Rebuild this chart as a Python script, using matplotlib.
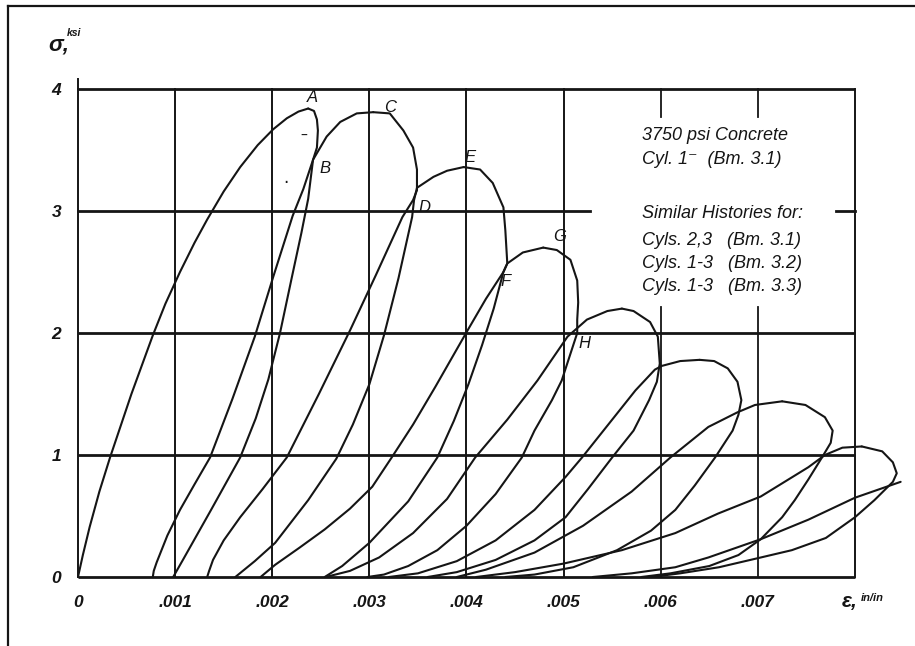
import matplotlib
matplotlib.use("Agg")
import matplotlib.pyplot as plt
from matplotlib.lines import Line2D

# ---- axis layout values ----
x_ticks = [0, 0.001, 0.002, 0.003, 0.004, 0.005, 0.006, 0.007]
x_tick_labels = ["0", ".001", ".002", ".003", ".004", ".005", ".006", ".007"]
y_ticks = [0, 1, 2, 3, 4]
y_tick_labels = ["0", "1", "2", "3", "4"]

# ---- stress (ksi) vs strain (in/in) branches of the cyclic loading history ----
rise_A_strain = [0, .00005, .00012, .00022, .00033, .00055, .00077, .00090, .00105,
                 .00120, .00133, .00150, .00167, .00185, .00201, .00215, .00227, .00237]
rise_A_stress = [0, .18, .41, .70, .98, 1.50, 1.98, 2.24, 2.50,
                 2.74, 2.93, 3.16, 3.36, 3.54, 3.67, 3.76, 3.815, 3.84]
fall_A_strain = [.00237, .00243, .00246, .00247, .00246, .00242, .00232, .00221, .00201,
                 .00182, .00159, .00136, .00120, .00105, .00092, .00081, .00078, .00077]
fall_A_stress = [3.84, 3.82, 3.75, 3.66, 3.52, 3.42, 3.18, 2.96, 2.46,
                 1.97, 1.46, .98, .76, .55, .34, .12, .05, 0]

rise_C_strain = [.00098, .00108, .00137, .00167, .00183, .00196, .00208, .00220, .00230,
                 .00237, .00242, .00256, .00270, .00287, .00304]
rise_C_stress = [0, .14, .55, .98, 1.30, 1.62, 2.00, 2.45, 2.82,
                 3.10, 3.42, 3.61, 3.73, 3.80, 3.81]
fall_C_strain = [.00304, .00321, .00335, .00345, .00349, .00349, .00345, .00334, .00307,
                 .00280, .00248, .00215, .00190, .00167, .00150, .00139, .00135, .00133]
fall_C_stress = [3.81, 3.80, 3.66, 3.52, 3.34, 3.17, 3.09, 2.95, 2.48,
                 2.02, 1.50, .98, .72, .49, .30, .14, .05, 0]

rise_E_strain = [.00162, .00182, .00203, .00237, .00266, .00283, .00300, .00315, .00330,
                 .00344, .00346, .00349, .00366, .00380, .00397]
rise_E_stress = [0, .13, .28, .63, .97, 1.25, 1.58, 1.98, 2.45,
                 2.95, 3.09, 3.19, 3.28, 3.33, 3.36]
fall_E_strain = [.00397, .00414, .00427, .00438, .00440, .00442, .00438, .00428, .00416,
                 .00402, .00387, .00370, .00340, .00300, .00272, .00258, .00254]
fall_E_stress = [3.36, 3.34, 3.23, 3.03, 2.84, 2.57, 2.50, 2.20, 1.90,
                 1.58, 1.28, .98, .62, .28, .09, .02, 0]

rise_G_strain = [.00188, .00203, .00228, .00254, .00280, .00303, .00323, .00345, .00368,
                 .00401, .00420, .00438, .00442, .00458, .00479]
rise_G_stress = [0, .10, .24, .39, .56, .74, .98, 1.25, 1.56,
                 2.02, 2.28, 2.50, 2.57, 2.66, 2.70]
fall_G_strain = [.00479, .00493, .00507, .00514, .00515, .00514, .00514, .00498, .00488,
                 .00470, .00457, .00430, .00400, .00370, .00340, .00315, .00298]
fall_G_stress = [2.70, 2.68, 2.60, 2.43, 2.25, 2.11, 2.00, 1.61, 1.45,
                 1.20, .98, .68, .42, .22, .09, .02, 0]

rise_5_strain = [.00255, .00280, .00310, .00345, .00380, .00409, .00442, .00473, .00504,
                 .00514, .00524, .00545, .00560]
rise_5_stress = [0, .05, .16, .36, .64, .98, 1.29, 1.61, 1.97,
                 2.04, 2.11, 2.18, 2.20]
fall_5_strain = [.00560, .00572, .00589, .00597, .00599, .00596, .00588, .00572, .00550,
                 .00525, .00502, .00470, .00430, .00390, .00360]
fall_5_stress = [2.20, 2.18, 2.09, 1.97, 1.75, 1.60, 1.45, 1.20, .98,
                 .72, .49, .30, .14, .04, 0]

rise_6_strain = [.00320, .00350, .00390, .00430, .00470, .00502, .00519, .00546, .00574,
                 .00594, .00601, .00620, .00640]
rise_6_stress = [0, .03, .13, .30, .55, .82, .98, 1.25, 1.53,
                 1.70, 1.73, 1.77, 1.78]
fall_6_strain = [.00640, .00655, .00669, .00679, .00683, .00680, .00674, .00656, .00635,
                 .00615, .00590, .00555, .00510, .00470, .00440]
fall_6_stress = [1.78, 1.77, 1.71, 1.60, 1.45, 1.33, 1.20, .98, .75,
                 .55, .38, .22, .08, .02, 0]

rise_7_strain = [.00390, .00420, .00470, .00520, .00570, .00610, .00649, .00679, .00697, .00725]
rise_7_stress = [0, .06, .20, .42, .70, .98, 1.23, 1.35, 1.41, 1.44]
fall_7_strain = [.00725, .00749, .00769, .00777, .00775, .00766, .00752, .00738, .00725,
                 .00703, .00680, .00650, .00610, .00580]
fall_7_stress = [1.44, 1.41, 1.31, 1.20, 1.10, .98, .80, .63, .49,
                 .31, .18, .09, .03, 0]

rise_8_strain = [.00410, .00450, .00500, .00560, .00615, .00659, .00703, .00752, .00769,
                 .00787, .00807]
rise_8_stress = [0, .04, .11, .22, .36, .52, .66, .90, 1.00, 1.06, 1.07]
fall_8_strain = [.00807, .00828, .00839, .00843, .00839, .00820, .00800, .00770, .00735,
                 .00703, .00660, .00620, .00590]
fall_8_stress = [1.07, 1.03, .94, .85, .78, .63, .49, .32, .22,
                 .16, .08, .03, 0]

rise_9_strain = [.00530, .00570, .00615, .00649, .00703, .00752, .00800, .00847]
rise_9_stress = [0, .03, .08, .16, .31, .47, .65, .78]

branches = [
    (rise_A_strain, rise_A_stress), (fall_A_strain, fall_A_stress),
    (rise_C_strain, rise_C_stress), (fall_C_strain, fall_C_stress),
    (rise_E_strain, rise_E_stress), (fall_E_strain, fall_E_stress),
    (rise_G_strain, rise_G_stress), (fall_G_strain, fall_G_stress),
    (rise_5_strain, rise_5_stress), (fall_5_strain, fall_5_stress),
    (rise_6_strain, rise_6_stress), (fall_6_strain, fall_6_stress),
    (rise_7_strain, rise_7_stress), (fall_7_strain, fall_7_stress),
    (rise_8_strain, rise_8_stress), (fall_8_strain, fall_8_stress),
    (rise_9_strain, rise_9_stress),
]

# ---- point labels on the history ----
point_names = ["A", "B", "C", "D", "E", "F", "G", "H"]
point_strain = [.00241, .00254, .00321, .00357, .00404, .00440, .00496, .00521]
point_stress = [3.93, 3.35, 3.85, 3.03, 3.44, 2.42, 2.79, 1.91]

note_lines = ["3750 psi Concrete", "Cyl. 1\u207b  (Bm. 3.1)", "",
              "Similar Histories for:", "Cyls. 2,3   (Bm. 3.1)",
              "Cyls. 1-3   (Bm. 3.2)", "Cyls. 1-3   (Bm. 3.3)"]
note_stress = [3.62, 3.42, 0, 2.98, 2.76, 2.57, 2.38]

INK = "#151515"
HAND = ["Liberation Sans Narrow", "Liberation Sans", "DejaVu Sans"]

fig = plt.figure(figsize=(9.15, 6.46), dpi=100)
fig.patch.set_facecolor("white")
W, H = 915, 646
ax = fig.add_axes([78 / W, (H - 577) / H, 777 / W, 488 / H])
ax.set_xlim(0, 0.008)
ax.set_ylim(0, 4)
for s in ax.spines.values():
    s.set_visible(False)

# grid: heavy horizontals, lighter verticals
for y in [0, 1, 2, 4]:
    ax.plot([0, 0.008], [y, y], color=INK, lw=2.0, clip_on=False, solid_capstyle="butt")
ax.plot([0, 0.00527], [3, 3], color=INK, lw=2.0, clip_on=False)
ax.plot([0.0078, 0.008], [3, 3], color=INK, lw=2.0, clip_on=False)
for x in [0, 0.001, 0.002, 0.003, 0.004, 0.005, 0.008]:
    ax.plot([x, x], [0, 4], color=INK, lw=1.4, clip_on=False)
ax.plot([0, 0], [4, 4.08], color=INK, lw=1.4, clip_on=False)
for x in [0.006, 0.007]:
    ax.plot([x, x], [0, 2.21], color=INK, lw=1.3, clip_on=False)
    ax.plot([x, x], [3.77, 4], color=INK, lw=1.3, clip_on=False)

for xs, ys in branches:
    ax.plot(xs, ys, color=INK, lw=1.5, clip_on=False,
            solid_joinstyle="round", solid_capstyle="round")

ax.set_xticks(x_ticks, x_tick_labels)
ax.set_yticks(y_ticks, y_tick_labels)
ax.tick_params(length=0)
ax.tick_params(axis="x", pad=13)
ax.tick_params(axis="y", pad=12)
for lab in ax.get_xticklabels() + ax.get_yticklabels():
    lab.set_fontfamily(HAND)
    lab.set_fontstyle("italic")
    lab.set_fontweight("bold")
    lab.set_fontsize(12.5)
    lab.set_color(INK)

for name, xv, yv in zip(point_names, point_strain, point_stress):
    ax.text(xv, yv, name, fontsize=12, family=HAND, style="italic",
            color=INK, ha="center", va="center")
ax.text(0.00232, 3.62, "\u2013", fontsize=10, color=INK, ha="center", va="center")
ax.text(0.00214, 3.27, ".", fontsize=12, color=INK, ha="center", va="center")

for line, yv in zip(note_lines, note_stress):
    if line:
        ax.text(0.00581, yv, line, fontsize=13, family=HAND,
                style="italic", color=INK, ha="left", va="center")

# axis captions
fig.text(48 / W, 1 - 45 / H, "\u03c3,", fontsize=16, family=HAND, style="italic",
         weight="bold", color=INK, ha="left", va="center")
fig.text(67 / W, 1 - 33 / H, "ksi", fontsize=7.5, family=HAND, style="italic",
         weight="bold", color=INK, ha="left", va="center")
fig.text(842 / W, 1 - 601 / H, "\u03b5,", fontsize=15, family=HAND, style="italic",
         weight="bold", color=INK, ha="left", va="center")
fig.text(861 / W, 1 - 598 / H, "in/in", fontsize=8, family=HAND, style="italic",
         weight="bold", color=INK, ha="left", va="center")

# page frame
fig.add_artist(Line2D([8 / W, 8 / W], [0, 1 - 6 / H], color=INK, lw=1.6))
fig.add_artist(Line2D([8 / W, 1], [1 - 6 / H, 1 - 6 / H], color=INK, lw=1.6))

fig.savefig("out.png", dpi=100, facecolor="white")
